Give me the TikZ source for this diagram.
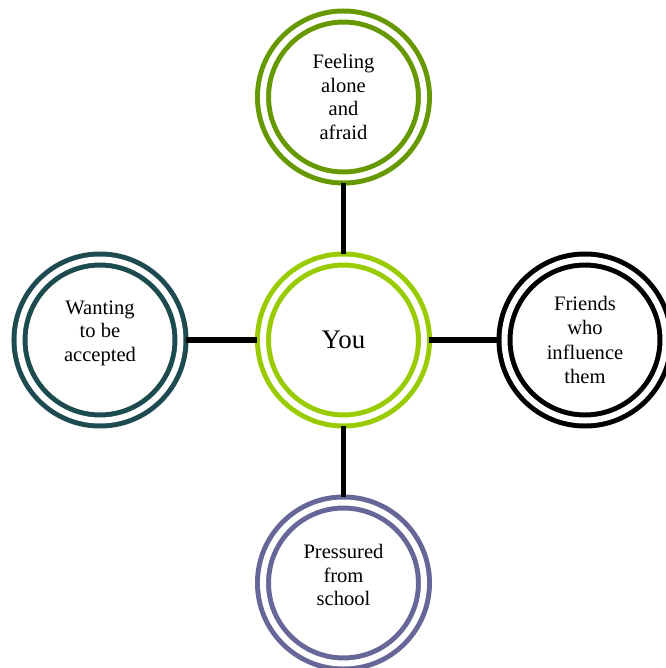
\documentclass[tikz,border=0pt]{standalone}
\usepackage{fontspec}
\setmainfont{Liberation Serif}
\definecolor{leafgreen}{HTML}{669900}
\definecolor{limegreen}{HTML}{99CC00}
\definecolor{deepteal}{HTML}{1E4B4F}
\definecolor{slateblue}{HTML}{666699}
\begin{document}
\begin{tikzpicture}[font=\fontsize{11.7}{13.5}\selectfont,
	ring/.style={circle, draw=#1, line width=1mm, double=white, double distance=1.2mm,
		minimum size=3.22cm, inner sep=0pt, outer sep=1.1mm, align=center}]
	\useasboundingbox (-6.87,-6.56) rectangle (6.43,6.8);
	\node[ring=limegreen, font=\fontsize{15.3}{18}\selectfont] (you) at (0,0) {You};
	\node[ring=leafgreen] (alone) at (0,4.86) {Feeling\\alone\\and\\afraid};
	\node[ring=deepteal, text depth=0.36cm] (accepted) at (-4.87,0) {Wanting\\to be\\accepted};
	\node[ring=black, font=\fontsize{11.7}{14}\selectfont] (friends) at (4.83,0) {Friends\\who\\influence\\them};
	\node[ring=slateblue, text depth=0.32cm] (school) at (0,-4.86) {Pressured\\from\\school};
	% spokes out of the middle
	\foreach \n in {alone,accepted,friends,school}
		\draw[line width=1.15mm] (you) -- (\n);
\end{tikzpicture}
\end{document}
